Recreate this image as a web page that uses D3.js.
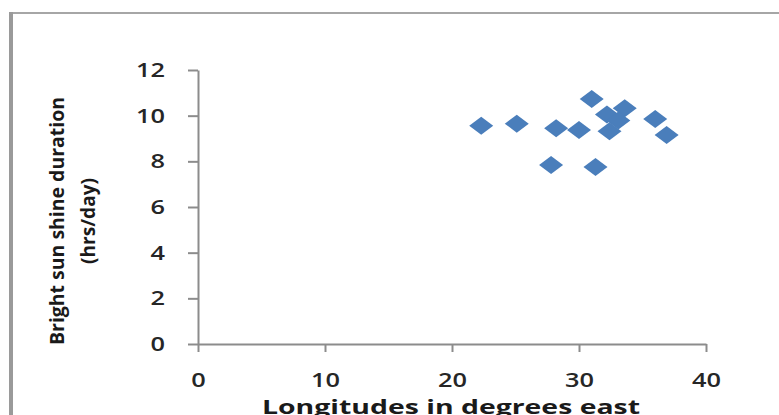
<!DOCTYPE html>
<html>
<head>
<meta charset="utf-8">
<script src="https://cdn.jsdelivr.net/npm/d3@7"></script>
<style>
  html, body { margin: 0; padding: 0; background: #fff; }
  svg { display: block; }
</style>
</head>
<body>
<script>
// Station longitudes (degrees east) and bright sunshine duration (hrs/day)
const longitudes = [22.3, 25.1, 28.2, 30.0, 31.0, 32.2, 33.6, 33.1, 32.4, 36.0, 36.9, 27.8, 31.3];
const sunshine   = [9.56, 9.65, 9.45, 9.37, 10.73, 10.05, 10.33, 9.79, 9.32, 9.85, 9.15, 7.84, 7.75];
const xTicks = [0, 10, 20, 30, 40];
const yTicks = [0, 2, 4, 6, 8, 10, 12];
const xTitle = "Longitudes in degrees east";
const yTitleLines = ["Bright sun shine duration", "(hrs/day)"];

const W = 779, H = 415;
const svg = d3.select("body").append("svg").attr("width", W).attr("height", H);

// chart frame
svg.append("line").attr("x1", 9).attr("x2", W).attr("y1", 13).attr("y2", 13)
  .attr("stroke", "#a6a6a6").attr("stroke-width", 2);
svg.append("line").attr("x1", 11).attr("x2", 11).attr("y1", 12).attr("y2", H)
  .attr("stroke", "#9a9a9a").attr("stroke-width", 4);

const x = d3.scaleLinear().domain([0, 40]).range([198, 706]);
const y = d3.scaleLinear().domain([0, 12]).range([344, 70]);

const axisColor = "#8c8c8c";
const fontFam = "'Open Sans', 'Liberation Sans', sans-serif";

function styleTicks(g) {
  g.select(".domain").attr("stroke", axisColor).attr("stroke-width", 2);
  g.selectAll(".tick line").attr("stroke", axisColor).attr("stroke-width", 2);
  g.selectAll(".tick text").attr("font-family", fontFam).attr("font-size", 20)
    .attr("font-weight", 600).attr("fill", "#262626")
    .attr("textLength", function () { return this.textContent.length * 14.5; })
    .attr("lengthAdjust", "spacingAndGlyphs");
}

// x axis
const gx = svg.append("g").attr("transform", `translate(0,${y(0)})`)
  .call(d3.axisBottom(x).tickValues(xTicks).tickSize(8).tickSizeOuter(0).tickPadding(21));
styleTicks(gx);

// y axis
const gy = svg.append("g").attr("transform", `translate(${x(0)},0)`)
  .call(d3.axisLeft(y).tickValues(yTicks).tickSize(10).tickSizeOuter(0).tickPadding(23));
styleTicks(gy);

// axis titles
svg.append("text").attr("x", 451).attr("y", 414)
  .attr("text-anchor", "middle").attr("font-family", fontFam)
  .attr("font-size", 19).attr("font-weight", 700).attr("fill", "#1a1a1a")
  .attr("textLength", 378).attr("lengthAdjust", "spacingAndGlyphs")
  .text(xTitle);

const yt = svg.append("g").attr("transform", "translate(0,221) rotate(-90)");
yt.append("text").attr("x", 0).attr("y", 64)
  .attr("text-anchor", "middle").attr("font-family", fontFam)
  .attr("font-size", 20).attr("font-weight", 700).attr("fill", "#1a1a1a")
  .attr("textLength", 248).attr("lengthAdjust", "spacingAndGlyphs")
  .text(yTitleLines[0]);
yt.append("text").attr("x", 0).attr("y", 95)
  .attr("text-anchor", "middle").attr("font-family", fontFam)
  .attr("font-size", 20).attr("font-weight", 700).attr("fill", "#1a1a1a")
  .attr("textLength", 86).attr("lengthAdjust", "spacingAndGlyphs")
  .text(yTitleLines[1]);

// diamond markers
const pts = longitudes.map((lon, i) => ({ lon, hrs: sunshine[i] }));
const hw = 12, hh = 9;
svg.append("g").selectAll("path").data(pts).join("path")
  .attr("transform", d => `translate(${x(d.lon)},${y(d.hrs)})`)
  .attr("d", `M0,${-hh}L${hw},0L0,${hh}L${-hw},0Z`)
  .attr("fill", "#4a7ebb");
</script>
</body>
</html>
